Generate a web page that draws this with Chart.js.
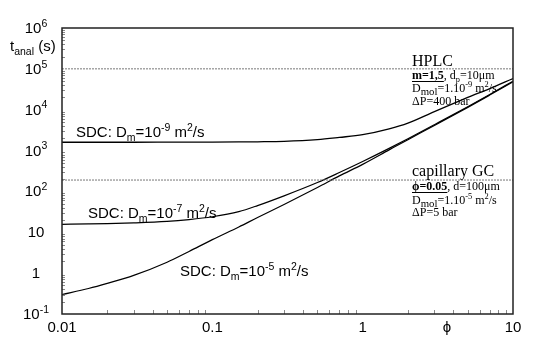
<!DOCTYPE html>
<html>
<head>
<meta charset="utf-8">
<script src="https://cdn.jsdelivr.net/npm/chart.js@4"></script>
<style>
  html, body { margin: 0; padding: 0; background: #fff; }
  #wrap { width: 546px; height: 342px; }
</style>
</head>
<body>
<div id="wrap"><canvas id="chart" width="546" height="342"></canvas></div>
<script>
// phase ratio phi and analysis time (s)
const phi = [0.01, 0.015, 0.02, 0.03, 0.05, 0.07, 0.1, 0.15, 0.2, 0.3, 0.5, 0.7, 1, 1.5, 2, 3, 5, 7, 10]
const tDm9 = [1600, 1600, 1600, 1600, 1605, 1610, 1615, 1625, 1640, 1680, 1850, 2100, 2450, 3400, 4700, 9000, 20000, 33000, 58000]
const tDm7 = [15.7, 16, 16.3, 17, 18.5, 20.5, 24, 32, 45, 78, 165, 290, 540, 1130, 1950, 4300, 11800, 23500, 50000]
const tDm5 = [0.3, 0.42, 0.56, 0.88, 1.85, 3.4, 6.6, 13.5, 23, 48, 125, 240, 460, 1040, 1850, 4100, 11400, 22800, 48000]

// reference levels (dashed)
const hplcLevel = 1e5
const gcLevel = 190

const xTicks = [0.01, 0.1, 1, 10]
const xTickLabels = ['0.01', '0.1', '1', '10']
const yTicks = [0.1, 1, 10, 100, 1e3, 1e4, 1e5, 1e6]
const yTickBase = ['10', '1', '10', '10', '10', '10', '10', '10']
const yTickExp = ['-1', '', '', '2', '3', '4', '5', '6']

const SANS = '"Liberation Sans", Arial, sans-serif'
const SERIF = '"Liberation Serif", "Times New Roman", serif'

function pts(ys) {
    return phi.map((x, i) => ({ x: x, y: ys[i] }))
}

function segSize(s, size) {
    if (s.sub || s.sup) return size * (s.scale || 0.7)
    return size
}

// text made of segments, with sub/superscripts
function richWidth(ctx, segs, size, family) {
    let w = 0
    segs.forEach(s => {
        ctx.font = (s.bold ? 'bold ' : '') + segSize(s, size) + 'px ' + family
        w += ctx.measureText(s.t).width
    })
    return w
}

function drawRich(ctx, x, y, segs, size, family) {
    ctx.textBaseline = 'alphabetic'
    ctx.textAlign = 'left'
    segs.forEach(s => {
        let dy = 0
        if (s.sup) dy = -size * 0.42
        if (s.sub) dy = size * 0.25
        ctx.font = (s.bold ? 'bold ' : '') + segSize(s, size) + 'px ' + family
        ctx.fillText(s.t, x, y + dy)
        const w = ctx.measureText(s.t).width
        if (s.u) ctx.fillRect(x, y + dy + 2, w, 1)
        x += w
    })
}

const decor = {
    id: 'decor',
    afterDraw(chart) {
        const ctx = chart.ctx
        const xs = chart.scales.x, ys = chart.scales.y
        const a = chart.chartArea
        ctx.save()

        // minor ticks
        ctx.strokeStyle = '#888'
        ctx.lineWidth = 1
        ctx.beginPath()
        ;[0.01, 0.1, 1].forEach(d => {
            for (let k = 2; k <= 9; k++) {
                const px = Math.round(xs.getPixelForValue(k * d)) + 0.5
                ctx.moveTo(px, a.bottom)
                ctx.lineTo(px, a.bottom - 4)
            }
        })
        ;[0.1, 1, 10, 100, 1e3, 1e4, 1e5].forEach(d => {
            for (let k = 2; k <= 9; k++) {
                const py = Math.round(ys.getPixelForValue(k * d)) + 0.5
                ctx.moveTo(a.left, py)
                ctx.lineTo(a.left + 3, py)
            }
        })
        ctx.stroke()

        // frame
        ctx.strokeStyle = '#222'
        ctx.lineWidth = 1.5
        ctx.strokeRect(a.left, a.top, a.right - a.left, a.bottom - a.top)

        ctx.fillStyle = '#000'
        // y tick labels
        yTicks.forEach((v, i) => {
            const py = ys.getPixelForValue(v)
            const segs = [{ t: yTickBase[i] }]
            if (yTickExp[i]) segs.push({ t: yTickExp[i], sup: true })
            const w = richWidth(ctx, segs, 15, SANS)
            drawRich(ctx, 36 - w / 2, py + 5, segs, 15, SANS)
        })
        // y title
        drawRich(ctx, 10, 51, [{ t: 't' }, { t: 'anal', sub: true }, { t: ' (s)' }], 15, SANS)

        // x tick labels
        ctx.font = '15px ' + SANS
        ctx.textAlign = 'center'
        ctx.textBaseline = 'alphabetic'
        xTicks.forEach((v, i) => {
            ctx.fillText(xTickLabels[i], xs.getPixelForValue(v), 332)
        })
        ctx.fillText('\u03D5', 447, 332)

        // curve labels
        const sdc = e => [{ t: 'SDC: D' }, { t: 'm', sub: true }, { t: '=10' }, { t: e, sup: true }, { t: ' m' }, { t: '2', sup: true }, { t: '/s' }]
        drawRich(ctx, 76, 137, sdc('-9'), 15, SANS)
        drawRich(ctx, 88, 218, sdc('-7'), 15, SANS)
        drawRich(ctx, 180, 276, sdc('-5'), 15, SANS)

        const dmol = e => [{ t: 'D' }, { t: 'mol', sub: true, scale: 0.9 }, { t: '=1.10' }, { t: e, sup: true }, { t: ' m' }, { t: '2', sup: true }, { t: '/s' }]
        // HPLC block
        drawRich(ctx, 412, 66, [{ t: 'HPLC' }], 16, SERIF)
        drawRich(ctx, 412, 79, [{ t: 'm=1,5', bold: true, u: true }, { t: ', d' }, { t: 'p', sub: true }, { t: '=10\u03BCm' }], 12, SERIF)
        drawRich(ctx, 412, 92, dmol('-9'), 12, SERIF)
        drawRich(ctx, 412, 105, [{ t: '\u0394P=400 bar' }], 12, SERIF)

        // capillary GC block
        drawRich(ctx, 412, 176, [{ t: 'capillary GC' }], 16, SERIF)
        drawRich(ctx, 412, 190, [{ t: '\u03D5=0.05', bold: true, u: true }, { t: ', d=100\u03BCm' }], 12, SERIF)
        drawRich(ctx, 412, 204, dmol('-5'), 12, SERIF)
        drawRich(ctx, 412, 216, [{ t: '\u0394P=5 bar' }], 12, SERIF)

        ctx.restore()
    }
}

const line = (ys, w) => ({
    data: pts(ys),
    borderColor: '#000',
    borderWidth: w,
    pointRadius: 0,
    fill: false,
    cubicInterpolationMode: 'monotone'
})
const level = v => ({
    data: [{ x: phi[0], y: v }, { x: phi[phi.length - 1], y: v }],
    borderColor: '#777',
    borderWidth: 1,
    borderDash: [2, 1],
    pointRadius: 0,
    fill: false
})

const ctx = document.getElementById('chart').getContext('2d')
const chart = new Chart(ctx, {
    type: 'line',
    data: {
        datasets: [
            level(hplcLevel),
            level(gcLevel),
            line(tDm9, 1.3),
            line(tDm7, 1.2),
            line(tDm5, 1.2)
        ]
    },
    options: {
        responsive: false,
        animation: false,
        layout: { padding: { left: 62, top: 28, right: 33, bottom: 28 } },
        plugins: { legend: { display: false }, tooltip: { enabled: false } },
        scales: {
            x: { type: 'logarithmic', min: 0.01, max: 10, display: false },
            y: { type: 'logarithmic', min: 0.1, max: 1e6, display: false }
        }
    },
    plugins: [decor]
})
</script>
</body>
</html>
